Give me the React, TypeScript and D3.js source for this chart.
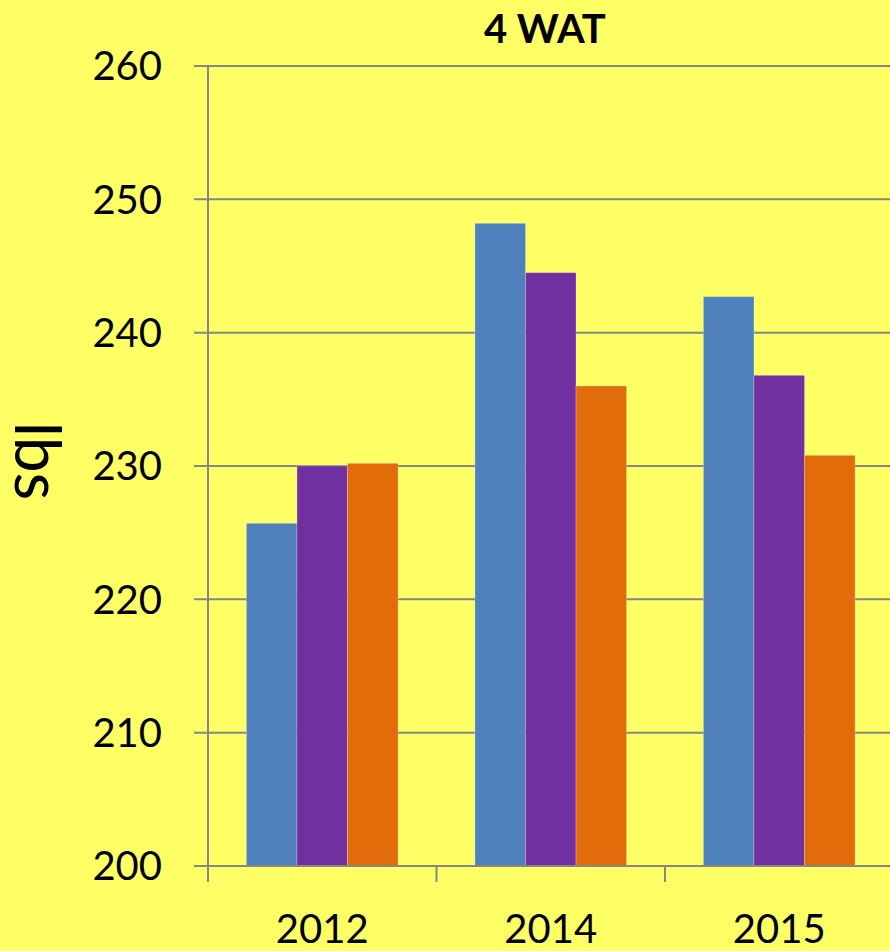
import React, { useRef, useEffect } from 'react';
import * as d3 from 'd3';

const years = ['2012', '2014', '2015'];
const seriesNames = ['s1', 's2', 's3'];
const seriesColors = ['#4F81BD', '#7030A0', '#E36C0A'];
const s1 = [225.7, 248.2, 242.7];
const s2 = [230.0, 244.5, 236.8];
const s3 = [230.2, 236.0, 230.8];
const yTicks = [200, 210, 220, 230, 240, 250, 260];

const W = 890;
const H = 951;

const App = () => {
  const svgRef = useRef<SVGSVGElement>(null);

  useEffect(() => {
    const svg = d3.select(svgRef.current);
    svg.selectAll('*').remove();

    const left = 208, right = 893.5, top = 66, bottom = 866;
    const font = 'Lato, "Open Sans", sans-serif';
    const grid = '#868686';

    svg.append('rect').attr('width', W).attr('height', H).attr('fill', '#FFFF66');

    const x = d3.scaleBand().domain(years).range([left, right]).paddingInner(0).paddingOuter(0);
    const x1 = d3.scaleBand().domain(seriesNames).range([0, x.bandwidth()]).paddingInner(0).paddingOuter(0.76);
    const y = d3.scaleLinear().domain([200, 260]).range([bottom, top]);

    // gridlines + y ticks
    svg.append('g').selectAll('line').data(yTicks).enter().append('line')
      .attr('x1', left - 14).attr('x2', W)
      .attr('y1', d => y(d)).attr('y2', d => y(d))
      .attr('stroke', grid).attr('stroke-width', 2);

    svg.append('g').selectAll('text').data(yTicks).enter().append('text')
      .attr('x', 162).attr('y', d => y(d))
      .attr('dy', '0.36em')
      .attr('text-anchor', 'end')
      .attr('font-family', font).attr('font-size', 40)
      .text(d => d);

    // bars
    const series = [s1, s2, s3];
    series.forEach((vals, i) => {
      svg.append('g').selectAll('rect').data(vals).enter().append('rect')
        .attr('x', (d, j) => x(years[j])! + x1(seriesNames[i])!)
        .attr('width', x1.bandwidth())
        .attr('y', d => y(d))
        .attr('height', d => y(200) - y(d))
        .attr('fill', seriesColors[i])
        .attr('stroke', 'rgba(255,255,255,0.25)')
        .attr('stroke-width', 1);
    });

    // axes
    svg.append('line').attr('x1', left).attr('x2', left).attr('y1', top).attr('y2', bottom + 16)
      .attr('stroke', grid).attr('stroke-width', 2);
    svg.append('line').attr('x1', left).attr('x2', W).attr('y1', bottom).attr('y2', bottom)
      .attr('stroke', grid).attr('stroke-width', 2);
    svg.append('g').selectAll('line').data(years.slice(1)).enter().append('line')
      .attr('x1', d => x(d)!).attr('x2', d => x(d)!)
      .attr('y1', bottom).attr('y2', bottom + 16)
      .attr('stroke', grid).attr('stroke-width', 2);

    svg.append('g').selectAll('text').data(years).enter().append('text')
      .attr('x', d => x(d)! + x.bandwidth() / 2).attr('y', 943)
      .attr('text-anchor', 'middle')
      .attr('font-family', font).attr('font-size', 40)
      .text(d => d);

    svg.append('text').attr('x', 545).attr('y', 43)
      .attr('text-anchor', 'middle')
      .attr('font-family', font).attr('font-size', 40).attr('font-weight', 'bold')
      .text('4 WAT');

    svg.append('text')
      .attr('transform', `translate(15,461) rotate(90)`)
      .attr('text-anchor', 'middle')
      .attr('font-family', font).attr('font-size', 64)
      .text('lbs');
  }, []);

  return <svg ref={svgRef} width={W} height={H} style={{ position: 'absolute', left: 0, top: 0 }}></svg>;
};

export default App;
